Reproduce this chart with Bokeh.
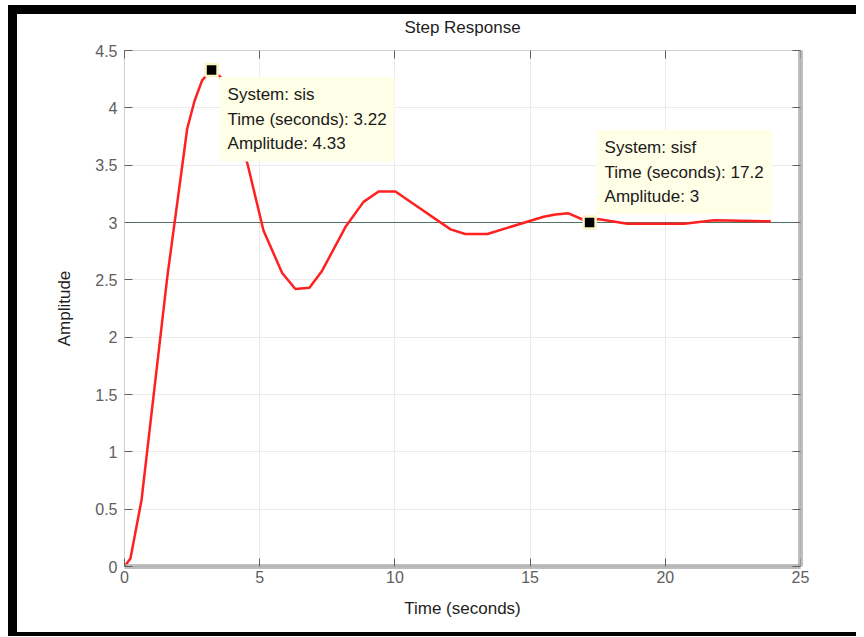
from bokeh.plotting import figure
from bokeh.models import (Range1d, LinearAxis, FixedTicker, PrintfTickFormatter,
                          Span, Label)
from bokeh.embed import file_html
from bokeh.resources import INLINE

# ---- data ----
time_s = [0.0, 0.22, 0.63, 1.58, 2.32, 2.59, 2.87, 3.22, 3.55, 4.55, 5.14, 5.83,
          6.32, 6.84, 7.31, 8.17, 8.84, 9.40, 10.02, 10.76, 12.06, 12.60, 13.42,
          15.50, 15.94, 16.42, 17.20, 17.50, 18.60, 20.70, 21.80, 23.90]
amplitude = [0.0, 0.07, 0.58, 2.52, 3.82, 4.06, 4.24, 4.33, 4.27, 3.51, 2.93, 2.56,
             2.42, 2.43, 2.58, 2.96, 3.18, 3.27, 3.27, 3.15, 2.94, 2.90, 2.90,
             3.05, 3.07, 3.08, 3.00, 3.03, 2.99, 2.99, 3.02, 3.01]
final_value = 3.0
x_ticks = [0, 5, 10, 15, 20, 25]
y_ticks = [0, 0.5, 1, 1.5, 2, 2.5, 3, 3.5, 4, 4.5]
tip_systems = ["sis", "sisf"]
tip_times = [3.22, 17.2]
tip_amps = [4.33, 3.0]
title_text = "Step Response"
x_label = "Time (seconds)"
y_label = "Amplitude"

FONT = "Liberation Sans"
W, H = 856, 636

p = figure(width=W, height=H, x_range=Range1d(x_ticks[0], x_ticks[-1]),
           y_range=Range1d(y_ticks[0], y_ticks[-1]),
           output_backend="svg", toolbar_location=None,
           min_border_left=124, min_border_right=W - 800, min_border_top=50,
           min_border_bottom=H - 566, x_axis_label=x_label, y_axis_label=y_label,
           title=title_text)
# black page frame (left, top, bottom) drawn as inset shadows behind a transparent canvas
p.styles = {"box-shadow": ("inset 8px 5px 0 0 white, inset 17px 14px 0 0 black, "
                           "inset 0 -4px 0 0 black")}
p.background_fill_color = "white"
p.border_fill_color = "white"
p.border_fill_alpha = 0
p.outline_line_color = "#cfcfcf"

p.title.align = "center"
p.title.text_font = FONT
p.title.text_font_size = "17px"
p.title.text_font_style = "normal"
p.title.text_color = "#1e1e1e"
p.title.standoff = 27

for ax, ticks in ((p.xaxis[0], x_ticks), (p.yaxis[0], y_ticks)):
    ax.ticker = FixedTicker(ticks=ticks)
    ax.axis_line_color = None
    ax.major_tick_in = 8
    ax.major_tick_out = 0
    ax.major_tick_line_color = "#606060"
    ax.minor_tick_line_color = None
    ax.major_label_text_font = FONT
    ax.major_label_text_font_size = "16px"
    ax.major_label_text_color = "#5e5e5e"
    ax.axis_label_text_font = FONT
    ax.axis_label_text_font_size = "17px"
    ax.axis_label_text_font_style = "normal"
    ax.axis_label_text_color = "#1e1e1e"
p.yaxis[0].formatter = PrintfTickFormatter(format="%g")
p.xaxis[0].major_label_standoff = 4
p.xaxis[0].axis_label_standoff = 13
p.yaxis[0].major_label_standoff = 7
p.yaxis[0].axis_label_standoff = 18
# drop-shadow look along the bottom edge
p.xaxis[0].axis_line_color = "#a8a8a8"
p.xaxis[0].axis_line_width = 5
p.xaxis[0].axis_line_alpha = 0.75

for loc, ticks in (("right", y_ticks), ("above", x_ticks)):
    ax = LinearAxis(ticker=FixedTicker(ticks=ticks), major_tick_in=8, major_tick_out=0,
                    major_tick_line_color="#606060", minor_tick_line_color=None,
                    axis_line_color=None, major_label_text_font_size="0px",
                    major_label_text_alpha=0, major_label_standoff=0)
    if loc == "right":
        ax.axis_line_color = "#a8a8a8"
        ax.axis_line_width = 5
        ax.axis_line_alpha = 0.75
    p.add_layout(ax, loc)

p.xgrid.grid_line_color = "#ebebeb"
p.ygrid.grid_line_color = "#ebebeb"

p.add_layout(Span(location=final_value, dimension="width", line_color="#4f7064",
                  line_width=1, level="underlay"))

p.line(time_s, amplitude, line_color="#ff2020", line_width=2.5)
p.scatter(tip_times, tip_amps, marker="square", size=12, fill_color="black",
          line_color="#fbf6c4", line_width=2.5)

# data tips
offsets = [(8, -7, "top_left"), (7, 8, "bottom_left")]
for s, t, a, (dx, dy, anc) in zip(tip_systems, tip_times, tip_amps, offsets):
    txt = f"System: {s}\nTime (seconds): {t:g}\nAmplitude: {a:g}"
    p.add_layout(Label(x=t, y=a, text=txt, x_offset=dx, y_offset=dy, anchor=anc,
                       text_font=FONT, text_font_size="17px", text_color="#1a1a1a",
                       background_fill_color="#fffee6", padding=8,
                       text_line_height=1.3))

open("out.html", "w").write(file_html(p, INLINE))
